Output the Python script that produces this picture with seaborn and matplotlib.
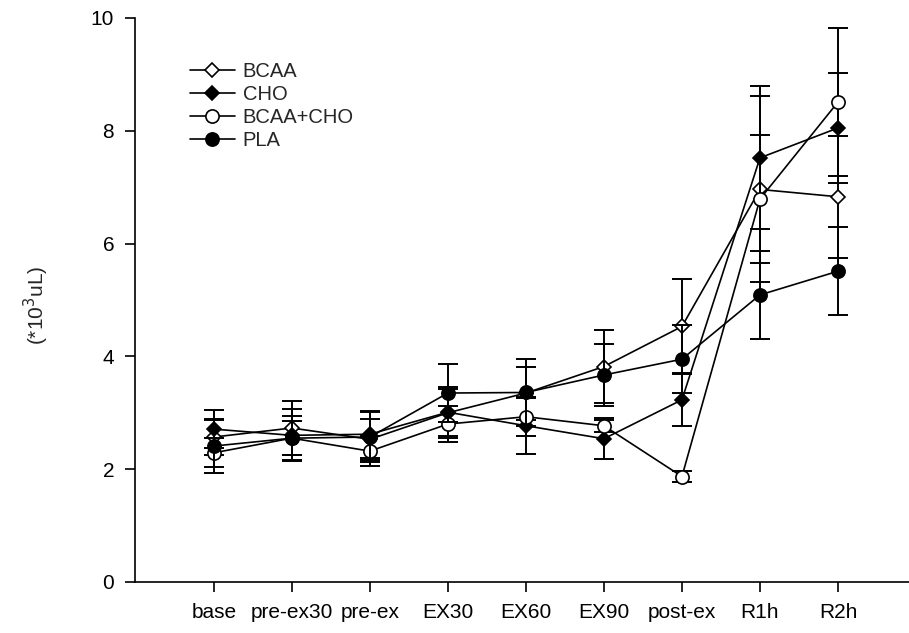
import matplotlib
matplotlib.use("Agg")
import matplotlib.pyplot as plt
import numpy as np
import pandas as pd
import seaborn as sns

# Time points
timepoints = ["base", "pre-ex30", "pre-ex", "EX30", "EX60", "EX90", "post-ex", "R1h", "R2h"]

# Group means (*10^3/uL)
bcaa_mean = [2.57, 2.73, 2.53, 3.00, 3.35, 3.82, 4.53, 6.96, 6.83]
cho_mean = [2.71, 2.60, 2.62, 3.01, 2.77, 2.54, 3.23, 7.52, 8.05]
bcaa_cho_mean = [2.29, 2.55, 2.32, 2.80, 2.93, 2.77, 1.87, 6.79, 8.51]
pla_mean = [2.41, 2.55, 2.57, 3.35, 3.36, 3.67, 3.95, 5.09, 5.51]

# Standard errors
bcaa_se = [0.31, 0.47, 0.36, 0.42, 0.47, 0.65, 0.85, 1.65, 1.08]
cho_se = [0.34, 0.46, 0.42, 0.45, 0.50, 0.36, 0.47, 1.27, 0.98]
bcaa_cho_se = [0.26, 0.30, 0.27, 0.32, 0.35, 0.11, 0.10, 1.14, 1.31]
pla_se = [0.48, 0.39, 0.45, 0.52, 0.60, 0.55, 0.60, 0.78, 0.78]

groups = ["BCAA", "CHO", "BCAA+CHO", "PLA"]
means = [bcaa_mean, cho_mean, bcaa_cho_mean, pla_mean]
errors = [bcaa_se, cho_se, bcaa_cho_se, pla_se]
markers = ["D", "D", "o", "o"]
faces = ["white", "black", "white", "black"]
sizes = [7.5, 7.5, 9.5, 9.5]

sns.set_style("ticks")
plt.rcParams["font.family"] = ["Liberation Sans", "DejaVu Sans"]

fig = plt.figure(figsize=(9.09, 6.33), dpi=100)
ax = fig.add_axes([0.1485, 0.0806, 0.8515, 0.891])

x = np.arange(len(timepoints))
for i, (name, m, e) in enumerate(zip(groups, means, errors)):
    df = pd.DataFrame({"t": x, "val": m})
    ax.errorbar(x, m, yerr=e, fmt="none", ecolor="black", elinewidth=1.4,
                capsize=7, capthick=1.4, zorder=2 + i * 2)
    sns.lineplot(data=df, x="t", y="val", ax=ax, color="black", linewidth=1.2,
                 marker=markers[i], markersize=sizes[i], markerfacecolor=faces[i],
                 markeredgecolor="black", markeredgewidth=1.2, label=name,
                 zorder=3 + i * 2)

ax.set_xlim(-1.01, 8.91)
ax.set_ylim(0, 10)
ax.set_xticks(x)
ax.set_xticklabels(timepoints, fontsize=15.5)
ax.set_yticks([0, 2, 4, 6, 8, 10])
ax.set_xlabel("")
ax.set_ylabel("(*10$^3$uL)", fontsize=15)
ax.yaxis.set_label_coords(-0.108, 0.49)
ax.tick_params(axis="both", direction="out", length=7, width=1.2, labelsize=15,
               colors="black")
ax.tick_params(axis="x", pad=8)
ax.tick_params(axis="y", pad=8)
for s in ["top", "right"]:
    ax.spines[s].set_visible(False)
for s in ["left", "bottom"]:
    ax.spines[s].set_linewidth(1.2)
    ax.spines[s].set_color("black")

leg = ax.legend(loc="upper left", bbox_to_anchor=(0.061, 0.937), frameon=False,
                fontsize=14.5, handlelength=2.2, handletextpad=0.4,
                labelspacing=0.2, borderaxespad=0)

fig.savefig("out.png", dpi=100)
